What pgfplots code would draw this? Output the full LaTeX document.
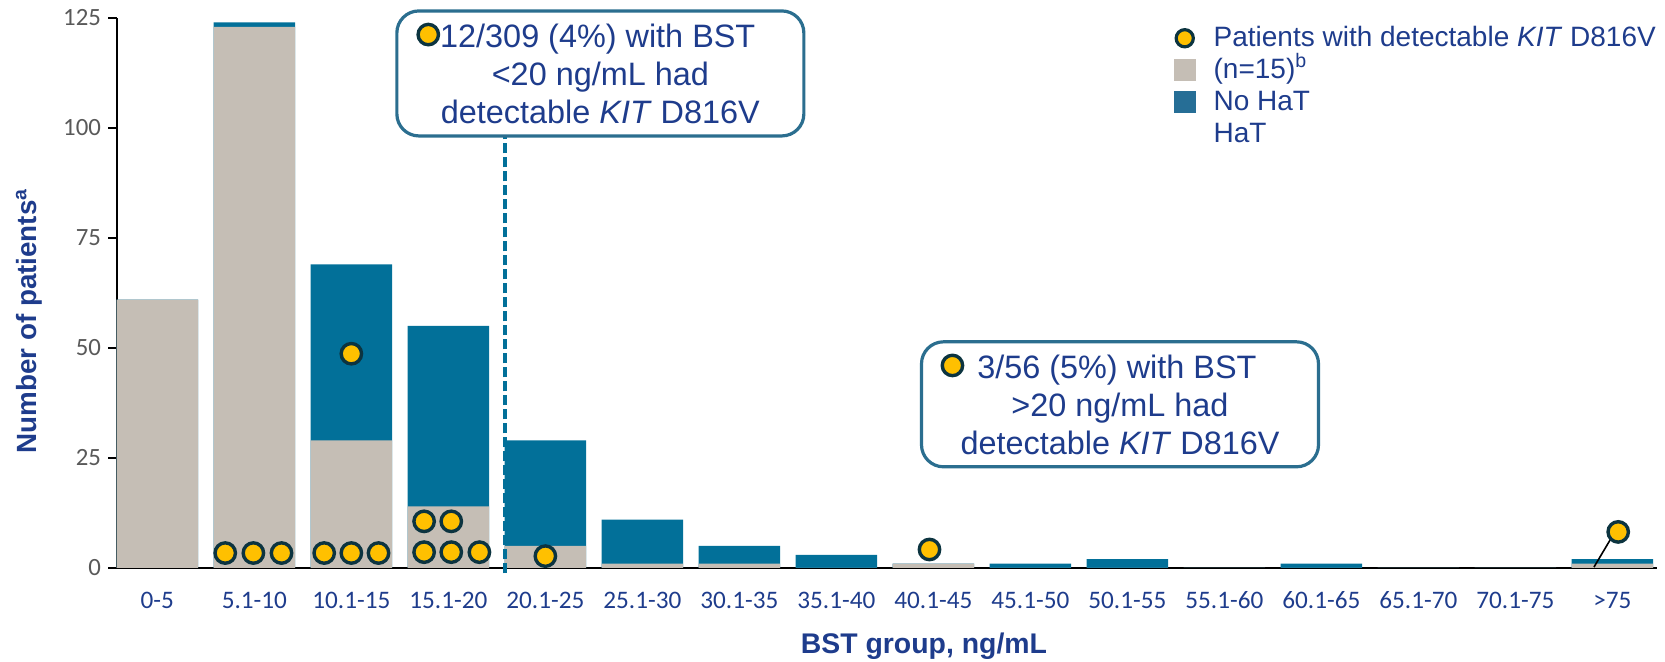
\documentclass[border=0pt]{standalone}
\usepackage{pgfplots}
\usepackage{pgfplotstable}
\pgfplotsset{compat=1.18}
\usepackage{fontspec}
\setmainfont{Liberation Sans}
\newfontfamily\tickfont{Carlito}
\definecolor{cgray}{RGB}{197,190,181}
\definecolor{cblue}{RGB}{2,112,153}
\definecolor{clegblue}{RGB}{38,110,150}
\definecolor{navy}{RGB}{30,60,140}
\definecolor{cbox}{RGB}{43,110,143}
\definecolor{cdot}{RGB}{255,192,0}
\definecolor{cdotedge}{RGB}{12,52,64}
\definecolor{ctick}{RGB}{89,89,89}
\newcommand{\dotsym}{\raisebox{0.7pt}{\tikz\draw[draw=cdotedge, fill=cdot, line width=1.7pt] (0,0) circle (5.1pt);}}

\pgfplotstableread{
x gray total
0 61 61
1 123 124
2 29 69
3 14 55
4 5 29
5 1 11
6 1 5
7 0 3
8 1 1
9 0 1
10 0 2
11 0 0
12 0 1
13 0 0
14 0 0
15 1 2
}\bartab

\pgfplotstableread{
x y
0.70 3.4
0.99 3.4
1.28 3.4
1.72 3.4
2.00 3.4
2.28 3.4
2.00 48.7
2.75 3.6
3.03 3.6
3.32 3.6
2.75 10.6
3.03 10.6
4.00 2.7
7.96 4.2
15.06 8.2
}\dottab

\begin{document}
\begin{tikzpicture}
\path[use as bounding box] (-58.5pt,-47pt) rectangle (774pt,284pt);
\begin{axis}[
  scale only axis,
  width=770pt, height=275pt,
  at={(0,0)}, anchor=south west,
  xmin=-0.416, xmax=15.46,
  ymin=0, ymax=125,
  clip=false,
  axis x line*=bottom, axis y line*=left,
  axis line style={-, line width=1pt, black},
  xtick={0,...,15},
  xticklabels={0-5,5.1-10,10.1-15,15.1-20,20.1-25,25.1-30,30.1-35,35.1-40,40.1-45,45.1-50,50.1-55,55.1-60,60.1-65,65.1-70,70.1-75,>75},
  major x tick style={draw=none},
  ytick={0,25,50,75,100,125},
  tick align=outside,
  major tick length=4.5pt,
  major y tick style={line width=1pt, black},
  /pgf/number format/assume math mode=true,
  xticklabel style={font=\tickfont\fontsize{12.6}{14}\selectfont, text=navy, anchor=base, yshift=-16pt},
  yticklabel style={font=\tickfont\fontsize{12.4}{14}\selectfont, text=ctick},
  xlabel={BST group, ng/mL},
  ylabel={Number of patients\textsuperscript{a}},
  xlabel style={at={(axis description cs:0.524,-0.142)}, anchor=center, font=\bfseries\fontsize{14.2}{16}\selectfont, text=navy},
  ylabel style={at={(axis description cs:-0.057,0.449)}, anchor=center, font=\bfseries\fontsize{13.9}{16}\selectfont, text=navy},
  legend cell align=left,
  legend style={at={(rel axis cs:0.686,0.993)}, anchor=north west, draw=none, fill=none, inner sep=0pt,
    font=\fontsize{14}{16}\selectfont, text=navy, column sep=7.5pt, row sep=0pt,
    nodes={inner sep=1.5pt, text height=10.5pt, text depth=2.5pt}},
]
\addplot[ybar, bar width=0.84, bar shift=0pt, fill=cblue, draw=none, forget plot] table[x=x, y=total]{\bartab};
\addplot[ybar, bar width=0.84, bar shift=0pt, fill=cgray, draw=none, forget plot] table[x=x, y=gray]{\bartab};
\addplot[black, line width=0.8pt, forget plot] coordinates {(14.81,0.2) (14.98,6.5)};
\addplot[only marks, mark=*, mark size=5.1pt, mark options={draw=cdotedge, fill=cdot, line width=1.7pt}, forget plot] table[x=x, y=y]{\dottab};
\addplot[cblue, line width=2pt, dash pattern=on 5pt off 2pt, forget plot] coordinates {(3.58,-1.2) (3.58,98)};

\addlegendimage{legend image code/.code={\draw[draw=cdotedge, fill=cdot, line width=1.6pt] (5.25pt,0pt) circle (4.3pt);}}
\addlegendentry{Patients with detectable \textit{KIT} D816V}
\addlegendimage{legend image code/.code={\fill[cgray] (0pt,-5.25pt) rectangle (10.5pt,5.25pt);}}
\addlegendentry{(n=15)\textsuperscript{b}}
\addlegendimage{legend image code/.code={\fill[clegblue] (0pt,-5.25pt) rectangle (10.5pt,5.25pt);}}
\addlegendentry{No HaT}
\addlegendimage{empty legend}
\addlegendentry{HaT}

\node[draw=cbox, line width=1.6pt, rounded corners=11pt, fill=white, minimum width=203.5pt, minimum height=62.5pt,
  align=center, text=navy, font=\fontsize{16.2}{19}\selectfont] at (axis cs:4.567,112.4)
  {\dotsym12/309 (4\%) with BST\hspace*{14.5pt}\\ <20 ng/mL had\\ detectable \textit{KIT} D816V};
\node[draw=cbox, line width=1.6pt, rounded corners=11pt, fill=white, minimum width=198.5pt, minimum height=62.5pt,
  align=center, text=navy, font=\fontsize{16.2}{19}\selectfont] at (axis cs:9.924,37.2)
  {\dotsym\hspace*{6.5pt}3/56 (5\%) with BST\hspace*{21.5pt}\\ >20 ng/mL had\\ detectable \textit{KIT} D816V};
\end{axis}
\end{tikzpicture}
\end{document}
